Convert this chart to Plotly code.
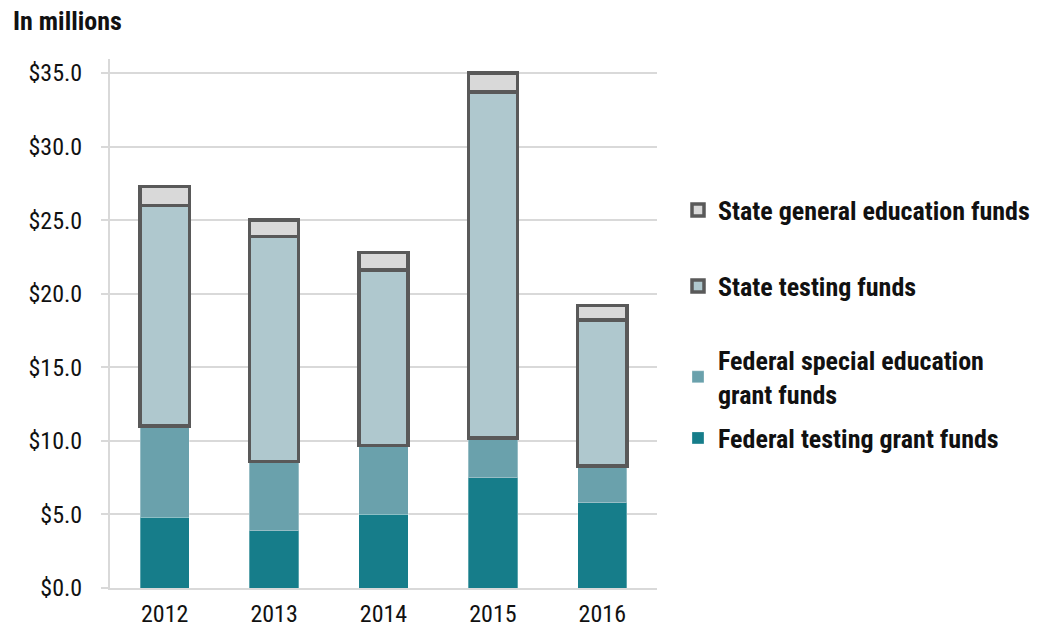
import plotly.graph_objects as go

years = ["2012", "2013", "2014", "2015", "2016"]
federal_testing = [4.8, 3.9, 5.0, 7.5, 5.8]
federal_special = [6.2, 4.7, 4.7, 2.7, 2.5]
state_testing = [15.0, 15.3, 11.9, 23.5, 9.9]
state_general = [1.3, 1.1, 1.2, 1.3, 1.0]

names = ["Federal testing grant funds",
         "Federal special education<br>grant funds",
         "State testing funds",
         "State general education funds"]

FONT = "Liberation Sans Narrow, Arial Narrow, Roboto Condensed, Liberation Sans, sans-serif"

fig = go.Figure()
fig.add_bar(x=years, y=federal_testing, name=names[0], legend="legend4",
            marker=dict(color="#167D8A", line=dict(color="rgba(255,255,255,0.3)", width=1)))
fig.add_bar(x=years, y=federal_special, name=names[1], legend="legend3",
            marker=dict(color="#6AA1AC", line=dict(color="rgba(255,255,255,0.3)", width=1)))
fig.add_bar(x=years, y=state_testing, name=names[2], legend="legend2",
            marker=dict(color="#AFC8CE", line=dict(color="#595959", width=3.5)))
fig.add_bar(x=years, y=state_general, name=names[3], legend="legend",
            marker=dict(color="#D9D9D9", line=dict(color="#595959", width=3.5)))

H = 631
PT, PB = 59, 588
def leg(ycenter):
    return dict(xref="container", yref="container", x=678/1039, y=1 - ycenter/H,
                xanchor="left", yanchor="middle", bgcolor="rgba(0,0,0,0)",
                font=dict(family=FONT, size=26, color="#111111", weight="bold"),
                itemclick=False, itemdoubleclick=False)

fig.update_layout(
    width=1039, height=631,
    barmode="stack", bargap=0.55,
    plot_bgcolor="white", paper_bgcolor="white",
    margin=dict(l=110, r=382, t=PT, b=H - PB, autoexpand=False),
    font=dict(family=FONT, size=24, color="#111111"),
    showlegend=True, hovermode=False,
    legend=leg(210), legend2=leg(286), legend3=leg(377), legend4=leg(438),
    annotations=[dict(text="<b>In millions</b>", xref="paper", yref="paper",
                      x=(11 - 110) / 547, y=(PB - 4) / (PB - PT), xanchor="left", yanchor="top",
                      showarrow=False, font=dict(family=FONT, size=26, color="#111111"))],
)
fig.update_xaxes(showline=True, linecolor="#D9D9D9", linewidth=2, ticks="",
                 tickfont=dict(size=24), ticklabelstandoff=3, automargin=False)
fig.update_yaxes(range=[0, 35.95], tickvals=[0, 5, 10, 15, 20, 25, 30, 35],
                 ticktext=["$0.0", "$5.0", "$10.0", "$15.0", "$20.0", "$25.0", "$30.0", "$35.0"],
                 showgrid=True, gridcolor="#D9D9D9", gridwidth=1.5,
                 showline=True, linecolor="#D9D9D9", linewidth=2,
                 ticks="outside", ticklen=7, tickcolor="#D9D9D9", tickwidth=1.5,
                 tickfont=dict(size=24), ticklabelstandoff=14, zeroline=False, automargin=False)

fig.write_html("out.html", config={"displayModeBar": False},
               post_script="document.body.style.margin='0';document.body.style.overflow='hidden';")
